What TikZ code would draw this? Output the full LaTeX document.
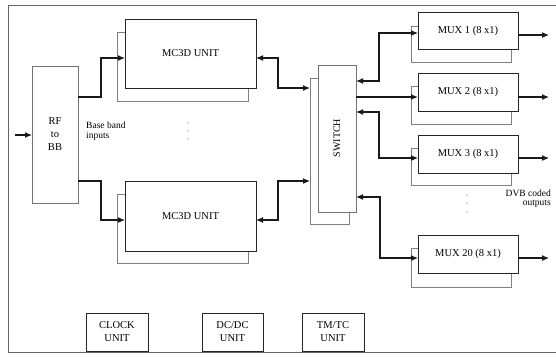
\documentclass[tikz,border=0pt]{standalone}
\usepackage{fontspec}
\setmainfont{Liberation Serif}
\usetikzlibrary{arrows.meta}
\begin{document}
\begin{tikzpicture}[x=1pt,y=-1pt,
  box/.style={draw=black!85, fill=white, line width=1pt, inner sep=0pt, outer sep=0pt,
    anchor=north west, font=\fontsize{10.5}{13}\selectfont, align=center},
  rbox/.style={box, draw=black!55},
  back/.style={draw=black!50, line width=1pt, inner sep=0pt, outer sep=0pt, anchor=north west},
  conn/.style={line width=1.1pt, black!90, -{Latex[length=7pt,width=6pt]}},
  bconn/.style={conn, {Latex[length=7pt,width=6pt]}-{Latex[length=7pt,width=6pt]}},
  lbl/.style={font=\fontsize{9.5}{11}\selectfont, inner sep=0pt},
  dot/.style={circle, fill=black!60, inner sep=0pt, minimum size=1.3pt}
]
\useasboundingbox (0,0) rectangle (556,357);
% frame
\draw[black!60, line width=0.9pt] (556,5) -- (8,5) -- (8,352) -- (556,352);

% back boxes
\node[back, minimum width=131pt, minimum height=69pt] (mcAb) at (117,32) {};
\node[back, minimum width=131pt, minimum height=69pt] (mcBb) at (117,194) {};
\node[back, minimum width=39pt, minimum height=146pt] (swb) at (310,78) {};
\node[back, minimum width=100pt, minimum height=36pt] (m1b) at (411,26) {};
\node[back, minimum width=100pt, minimum height=38pt] (m2b) at (411,86) {};
\node[back, minimum width=100pt, minimum height=37pt] (m3b) at (411,148) {};
\node[back, minimum width=100pt, minimum height=39pt] (m20b) at (411,248) {};

% front boxes
\node[rbox, minimum width=46pt, minimum height=137pt] (rf) at (32,66) {RF\\to\\BB};
\node[box, minimum width=131pt, minimum height=69pt] (mcA) at (125,19) {MC3D UNIT};
\node[box, minimum width=131pt, minimum height=70pt] (mcB) at (125,181) {MC3D UNIT};
\node[rbox, minimum width=38pt, minimum height=147pt] (sw) at (318,65) {};
\node[font=\fontsize{10}{12}\selectfont, rotate=90, inner sep=0pt] (swl) at (337,138) {SWITCH};
\node[box, minimum width=100pt, minimum height=37pt] (m1) at (418,12) {MUX 1 (8 x1)};
\node[box, minimum width=100pt, minimum height=38pt] (m2) at (418,73) {MUX 2 (8 x1)};
\node[box, minimum width=100pt, minimum height=38pt] (m3) at (418,135) {MUX 3 (8 x1)};
\node[box, minimum width=100pt, minimum height=38pt] (m20) at (418,235) {MUX 20 (8 x1)};
\node[box, minimum width=62pt, minimum height=38pt] (clk) at (86,313) {CLOCK\\UNIT};
\node[box, minimum width=61pt, minimum height=38pt] (dc) at (202,313) {DC/DC\\UNIT};
\node[box, minimum width=62pt, minimum height=38pt] (tm) at (302,313) {TM/TC\\UNIT};

% labels
\node[lbl, anchor=west] (bb1) at (86,125) {Base band};
\node[lbl, anchor=west] (bb2) at (86,136) {inputs};
\node[lbl, anchor=east] (dvb1) at (551,193) {DVB coded};
\node[lbl, anchor=east] (dvb2) at (551,204) {outputs};
\foreach \y [count=\i] in {123,131,139} \node[dot] (da\i) at (188,\y) {};
\foreach \y [count=\i] in {195,203,212} \node[dot] (db\i) at (467,\y) {};

% connectors
\coordinate (in) at (15,135);
\draw[conn] (in) -- (rf.west |- in);
\draw[conn] (rf.east |- 0,97) -| (101,77.5) |- (mcA.west |- 0,58);
\draw[conn] (rf.east |- 0,181) -| (101,200) |- (mcB.west |- 0,220);
\draw[bconn] (swb.west |- 0,88) -| (278,73) |- (mcA.east |- 0,58);
\draw[bconn] (swb.west |- 0,181) -| (278,200) |- (mcB.east |- 0,220);
\draw[bconn] (sw.east |- 0,81) -| (379,57) |- (m1.west |- 0,33);
\draw[conn, line width=1.3pt] (sw.east |- 0,97) -- (m2.west |- 0,97);
\draw[bconn] (sw.east |- 0,112) -| (379,135) |- (m3.west |- 0,158);
\draw[bconn] (sw.east |- 0,197) -| (380,228) |- (m20.west |- 0,258);

\coordinate (o1) at (549,35);
\coordinate (o2) at (549,97);
\coordinate (o3) at (549,158);
\coordinate (o20) at (549,258);
\draw[conn] (m1.east |- o1) -- (o1);
\draw[conn] (m2.east |- o2) -- (o2);
\draw[conn] (m3.east |- o3) -- (o3);
\draw[conn] (m20.east |- o20) -- (o20);
\end{tikzpicture}
\end{document}
